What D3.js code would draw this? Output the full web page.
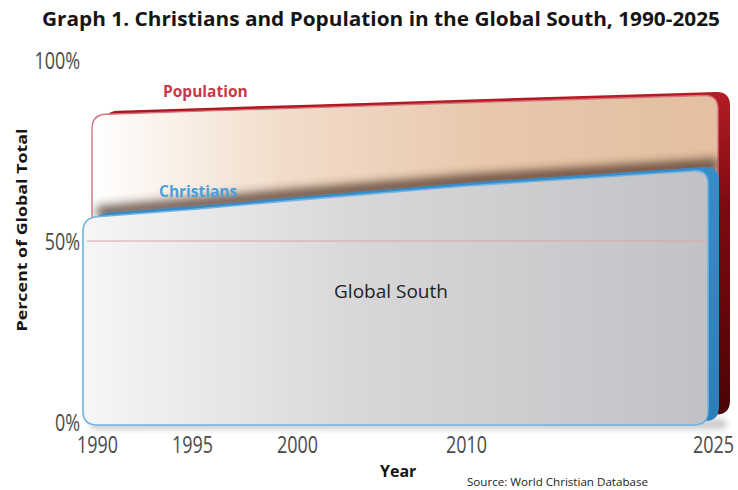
<!DOCTYPE html>
<html>
<head>
<meta charset="utf-8">
<script src="https://cdn.jsdelivr.net/npm/d3@7"></script>
<style>
  html, body { margin: 0; padding: 0; background: #ffffff; }
  svg { display: block; font-family: "Open Sans", "DejaVu Sans", sans-serif; }
</style>
</head>
<body>
<svg id="chart" width="738" height="490"></svg>
<script>
// ---------------- data ----------------
const years = [1990, 1995, 2000, 2010, 2025];
const population = [84.9, 85.8, 86.7, 88.2, 90.3];   // % of global total
const christians = [56.4, 58.7, 61.3, 65.2, 69.6];   // % of global total
const yTickValues = [0, 50, 100];
const title = "Graph 1. Christians and Population in the Global South,  1990-2025";
const yTitle = "Percent of Global Total";
const xTitle = "Year";
const source = "Source: World Christian Database";
const seriesLabels = ["Population", "Christians"];
const regionLabel = "Global South";

// ---------------- layout ----------------
const svg = d3.select("#chart");
const x = d3.scaleLinear().domain(years).range([97, 192, 297, 466, 713]);
const y = d3.scaleLinear().domain([0, 100]).range([422, 60]);

const defs = svg.append("defs");
function linGrad(id, x1, y1, x2, y2, stops) {
  const g = defs.append("linearGradient").attr("id", id)
    .attr("x1", x1).attr("y1", y1).attr("x2", x2).attr("y2", y2);
  stops.forEach(s => g.append("stop").attr("offset", s[0]).attr("stop-color", s[1]));
}
linGrad("peach", "0%", "0%", "100%", "0%", [[0, "#ffffff"], [0.3, "#f2ddcb"], [0.65, "#e8c7ab"], [1, "#e4bfa1"]]);
linGrad("gray", "0%", "0%", "100%", "0%", [[0, "#f6f6f7"], [0.45, "#d7d7d9"], [1, "#c1c2c5"]]);
linGrad("redBack", "0%", "0%", "0%", "100%", [[0, "#b51c24"], [0.35, "#7c0b10"], [1, "#4a0407"]]);
linGrad("blueBack", "0%", "0%", "0%", "100%", [[0, "#378dc9"], [1, "#2e7db8"]]);

function blur(id, sd) {
  defs.append("filter").attr("id", id).attr("x", "-20%").attr("y", "-50%")
    .attr("width", "140%").attr("height", "200%")
    .append("feGaussianBlur").attr("stdDeviation", sd);
}
blur("blur5", 5);
blur("blur3", 3);

function topPoints(vals, xl, xr) {
  const pts = years.map((yr, i) => [x(yr), y(vals[i])]);
  pts[0][0] = xl;
  pts[pts.length - 1][0] = xr;
  return pts;
}
function yAt(pts, xx) {
  for (let i = 0; i < pts.length - 1; i++) {
    if (xx >= pts[i][0] && xx <= pts[i + 1][0]) {
      const t = (xx - pts[i][0]) / (pts[i + 1][0] - pts[i][0]);
      return pts[i][1] + t * (pts[i + 1][1] - pts[i][1]);
    }
  }
  return xx < pts[0][0] ? pts[0][1] : pts[pts.length - 1][1];
}
function shapePath(vals, xl, xr, yb, r) {
  const pts = topPoints(vals, xl, xr);
  const p = d3.path();
  p.moveTo(xl, yAt(pts, xl) + r);
  p.quadraticCurveTo(xl, yAt(pts, xl), xl + r, yAt(pts, xl + r));
  pts.slice(1, -1).forEach(pt => p.lineTo(pt[0], pt[1]));
  p.lineTo(xr - r, yAt(pts, xr - r));
  p.quadraticCurveTo(xr, yAt(pts, xr), xr, yAt(pts, xr) + r);
  p.lineTo(xr, yb - r);
  p.quadraticCurveTo(xr, yb, xr - r, yb);
  p.lineTo(xl + r, yb);
  p.quadraticCurveTo(xl, yb, xl, yb - r);
  p.closePath();
  return p.toString();
}
function topLine(vals, xl, xr) {
  return d3.line()(topPoints(vals, xl, xr));
}

const popL = x(1990) - 5, popR = x(2025) + 5, popB = y(0) - 4;
const chrL = x(1990) - 14, chrR = x(2025) - 5, chrB = y(0) + 3;

defs.append("clipPath").attr("id", "clipPop").append("path").attr("d", shapePath(population, popL, popR, popB, 14));
defs.append("clipPath").attr("id", "clipChr").append("path").attr("d", shapePath(christians, chrL, chrR, chrB, 14));

// ground shadow
svg.append("rect").attr("x", chrL + 8).attr("y", chrB - 6).attr("width", chrR - chrL + 10).attr("height", 10)
  .attr("fill", "#8a8a8a").attr("opacity", 0.45).attr("filter", "url(#blur3)");

// ---------------- Population shape ----------------
svg.append("path").attr("d", shapePath(population, popL, popR, popB, 14))
  .attr("transform", "translate(12,-3.5)").attr("fill", "url(#redBack)");
svg.append("path").attr("d", shapePath(population, popL, popR, popB, 14))
  .attr("fill", "url(#peach)").attr("stroke", "#d8707c").attr("stroke-width", 1.4);

// shadow cast above the Christians top
svg.append("g").attr("clip-path", "url(#clipPop)")
  .append("path").attr("d", topLine(christians, chrL + 14, chrR + 10))
  .attr("transform", "translate(0,-5)")
  .attr("fill", "none").attr("stroke", "#3b2418").attr("stroke-width", 13)
  .attr("opacity", 0.7).attr("filter", "url(#blur5)");

// ---------------- Christians shape ----------------
svg.append("path").attr("d", shapePath(christians, chrL, chrR, chrB, 14))
  .attr("transform", "translate(11,-4)").attr("fill", "url(#blueBack)");
svg.append("path").attr("d", shapePath(christians, chrL, chrR, chrB, 14))
  .attr("fill", "url(#gray)").attr("stroke", "#6db4e4").attr("stroke-width", 1.6);

// inner shading band under the top
svg.append("g").attr("clip-path", "url(#clipChr)")
  .append("line").attr("x1", chrL).attr("x2", x(2000))
  .attr("y1", y(christians[0]) + 17).attr("y2", y(christians[0]) + 17)
  .attr("stroke", "#a4a5a8").attr("stroke-width", 5)
  .attr("opacity", 0.35).attr("filter", "url(#blur3)");

// 50% reference line
svg.append("line").attr("x1", chrL + 4).attr("x2", chrR - 2)
  .attr("y1", y(50)).attr("y2", y(50))
  .attr("stroke", "#e2a0a8").attr("stroke-width", 1);

// ---------------- axes ----------------
const yAxis = svg.append("g").attr("transform", "translate(80,0)")
  .call(d3.axisLeft(y).tickValues(yTickValues).tickSize(0).tickPadding(0).tickFormat(d => d + "%"));
yAxis.select(".domain").remove();
yAxis.selectAll("text")
  .attr("x", 0).attr("dy", "0.36em")
  .attr("font-family", "'Open Sans', sans-serif").attr("font-size", 23)
  .attr("fill", "#4a4a4a").attr("text-anchor", "end")
  .attr("transform", "scale(0.78,1)");

const xAxis = svg.append("g").attr("transform", "translate(0,453)")
  .call(d3.axisBottom(x).tickValues(years).tickSize(0).tickPadding(0).tickFormat(d3.format("d")));
xAxis.select(".domain").remove();
xAxis.selectAll("text")
  .attr("y", 0).attr("dy", 0)
  .attr("font-family", "'Open Sans', sans-serif").attr("font-size", 23)
  .attr("fill", "#4a4a4a").attr("text-anchor", "middle")
  .attr("transform", "scale(0.78,1)");

// ---------------- labels ----------------
svg.append("text").attr("x", 381).attr("y", 26).attr("text-anchor", "middle")
  .attr("font-size", 19.5).attr("font-weight", "bold").attr("fill", "#151515")
  .attr("textLength", 678).attr("lengthAdjust", "spacingAndGlyphs")
  .text(title);

svg.append("text").attr("transform", "translate(27,230) rotate(-90)").attr("text-anchor", "middle")
  .attr("font-size", 15).attr("font-weight", "bold").attr("fill", "#151515")
  .attr("textLength", 203).attr("lengthAdjust", "spacingAndGlyphs")
  .text(yTitle);

svg.append("text").attr("x", 380).attr("y", 477)
  .attr("font-size", 16).attr("font-weight", "bold").attr("fill", "#151515")
  .text(xTitle);

svg.append("text").attr("x", 467).attr("y", 486)
  .attr("font-size", 10.5).attr("fill", "#222")
  .attr("textLength", 181).attr("lengthAdjust", "spacingAndGlyphs")
  .text(source);

svg.append("text").attr("x", 163).attr("y", 97)
  .attr("font-size", 15.5).attr("font-weight", "bold").attr("fill", "#c9374b")
  .text(seriesLabels[0]);

svg.append("text").attr("x", 159).attr("y", 197)
  .attr("font-size", 15.5).attr("font-weight", "bold").attr("fill", "#4a9fd8")
  .text(seriesLabels[1]);

svg.append("text").attr("x", 391).attr("y", 298).attr("text-anchor", "middle")
  .attr("font-size", 19).attr("fill", "#1e1e1e")
  .text(regionLabel);
</script>
</body>
</html>
